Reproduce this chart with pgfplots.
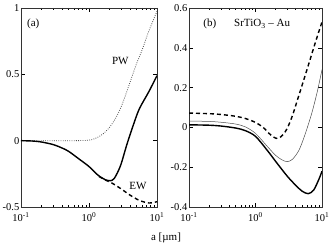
\documentclass[border=0pt]{standalone}
\usepackage{fontspec}
\setmainfont{Liberation Serif}
\usepackage{pgfplots}
\pgfplotsset{compat=1.18}
\pgfplotsset{
  myax/.style={
    scale only axis, height=199pt, anchor=south west,
    xmin=0.1, xmax=10,
    xtick={0.1,1,10},
    xticklabels={10\textsuperscript{-1},10\textsuperscript{0},10\textsuperscript{1}},
    minor xtick={0.2,0.3,0.4,0.5,0.6,0.7,0.8,0.9,2,3,4,5,6,7,8,9},
    major tick length=4pt, minor tick length=2pt,
    tick style={black, line width=0.4pt},
    axis line style={line width=0.5pt, black!80},
    tick label style={font=\fontsize{10.5}{12}\selectfont},
    yticklabel style={inner sep=1pt, xshift=-0.5pt},
    xticklabel style={inner sep=0.5pt, yshift=-4.5pt},
    clip=true,
  }
}
\begin{document}
\begin{tikzpicture}[font=\fontsize{11}{13}\selectfont]
\useasboundingbox (-21pt,-39pt) rectangle (311pt,207pt);
\begin{semilogxaxis}[myax, at={(0pt,0pt)}, width=136pt,
  ymin=-0.5, ymax=1, ytick={-0.5,0,0.5,1}, yticklabels={-0.5,0,0.5,1}]
\addplot[black!70, line width=0.8pt, dash pattern=on 0.8pt off 1.4pt, smooth] coordinates {
(0.1,0) (0.3,0) (0.6,0) (0.9,0.002) (1.1,0.008) (1.3,0.022) (1.6,0.05) (2.0,0.10) (2.5,0.175) (3.0,0.26) (3.6,0.37) (4.2,0.47) (5.0,0.58) (6.0,0.68) (7.5,0.82) (10,0.975)};
\addplot[black, line width=1.4pt, dash pattern=on 4pt off 3pt, smooth] coordinates {
(1.4,-0.27) (1.8,-0.30) (2.1,-0.315) (2.9,-0.36) (4.0,-0.41) (5.5,-0.45) (7.6,-0.47) (10,-0.46)};
\addplot[black, line width=1.4pt, smooth] coordinates {
(0.1,0) (0.15,-0.003) (0.2,-0.01) (0.3,-0.03) (0.4,-0.055) (0.5,-0.08) (0.7,-0.135) (1.0,-0.195) (1.37,-0.262) (1.8,-0.298) (2.05,-0.302) (2.35,-0.285) (2.9,-0.19) (3.6,-0.03) (4.5,0.12) (5.5,0.24) (7.6,0.37) (10,0.49)};
\node at (rel axis cs:0.09,0.92) {(a)};
\node at (rel axis cs:0.73,0.735) {PW};
\node at (rel axis cs:0.86,0.105) {EW};
\end{semilogxaxis}
\begin{semilogxaxis}[myax, at={(168pt,0pt)}, width=133pt,
  ymin=-0.4, ymax=0.6, ytick={-0.4,-0.2,0,0.2,0.4,0.6}, yticklabels={-0.4,-0.2,0,0.2,0.4,0.6}]
\addplot[black, line width=1.4pt, dash pattern=on 4pt off 3pt, smooth] coordinates {
(0.1,0.072) (0.2,0.069) (0.3,0.065) (0.5,0.056) (0.7,0.045) (1.0,0.025) (1.3,0.0) (1.6,-0.03) (1.8,-0.045) (2.05,-0.055) (2.3,-0.052) (2.6,-0.036) (3.0,-0.005) (3.6,0.06) (4.2,0.13) (5.0,0.21) (6.2,0.31) (8.0,0.43) (10,0.53)};
\addplot[black!70, line width=0.5pt, smooth] coordinates {
(0.1,0.032) (0.2,0.030) (0.3,0.026) (0.5,0.017) (0.7,0.003) (1.0,-0.03) (1.5,-0.095) (2.0,-0.14) (2.5,-0.163) (3.0,-0.172) (3.6,-0.16) (4.5,-0.115) (5.5,-0.04) (7.0,0.07) (8.5,0.18) (10,0.29)};
\addplot[black, line width=1.4pt, smooth] coordinates {
(0.1,0.013) (0.2,0.011) (0.3,0.007) (0.5,-0.003) (0.7,-0.016) (1.0,-0.045) (1.5,-0.115) (2.0,-0.17) (3.0,-0.245) (4.0,-0.29) (5.0,-0.32) (6.2,-0.333) (7.5,-0.315) (9.0,-0.26) (10,-0.22)};
\node at (rel axis cs:0.157,0.92) {(b)};
\node at (rel axis cs:0.55,0.92) {SrTiO\textsubscript{3} – Au};
\end{semilogxaxis}
\node at (145pt,-31pt) {a [µm]};
\end{tikzpicture}
\end{document}
